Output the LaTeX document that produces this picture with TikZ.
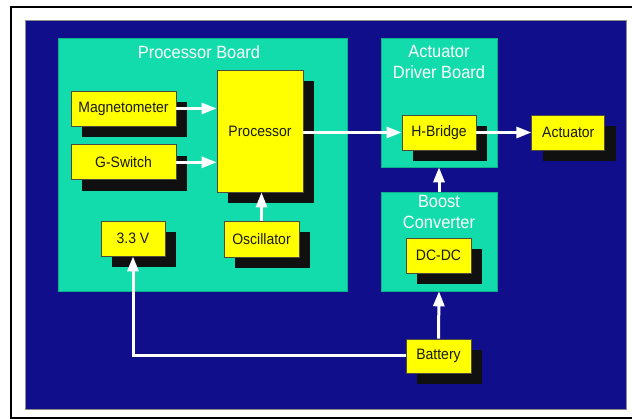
\documentclass[tikz,border=0pt]{standalone}
\usepackage{fontspec}
\setmainfont{Liberation Sans}
\newfontfamily\diagfont[FakeStretch=0.927]{Liberation Sans}
\usetikzlibrary{positioning, arrows.meta, shadows}

\definecolor{navybg}{RGB}{17,14,140}
\definecolor{boardteal}{RGB}{18,220,172}
\definecolor{boxyellow}{RGB}{255,255,0}
\definecolor{shade}{RGB}{16,16,16}

\begin{document}
\begin{tikzpicture}[
            x=1pt, y=1pt,
            board/.style={fill=boardteal, draw=boardteal!80!black, line width=0.6pt, inner sep=0pt},
            title/.style={text=white, align=center, font=\diagfont\fontsize{17.7}{21}\selectfont},
            box/.style={draw=black!80!yellow, line width=0.8pt, fill=boxyellow, inner sep=0pt,
                minimum height=35pt, align=center, text=black!90, font=\diagfont\fontsize{15.1}{17}\selectfont,
                drop shadow={shadow xshift=11pt, shadow yshift=-11pt, fill=shade, opacity=1}},
            arr/.style={-{Triangle[length=15pt, width=11pt]}, draw=white, line width=3pt}
        ]
            \useasboundingbox (0,0) rectangle (632,419);
            % Frame and background
            \draw[line width=1.6pt] (632,412) -- (11,412) -- (11,1) -- (632,1);
            \fill[navybg, draw=black!45] (25,10) rectangle (626,399);

            % Boards
            \node[board, minimum width=288.5pt, minimum height=253pt] (pboard) at (202.75,254.5) {};
            \node[board, minimum width=116pt, minimum height=129pt] (adboard) at (439,316.5) {};
            \node[board, minimum width=116pt, minimum height=99pt] (boost) at (439,177.5) {};
            \node[title] (ptitle) at (199,367) {Processor Board};
            \node[title] (adtitle) at (439,356.5) {Actuator\\Driver Board};
            \node[title] (btitle) at (439,206.5) {Boost\\Converter};

            % Processor board
            \node[box, minimum width=105pt] (mag) at (123.5,310.5) {Magnetometer};
            \node[box, minimum width=105pt, below=18pt of mag] (gsw) {G-Switch};
            \node[box, minimum width=86pt, minimum height=122pt] (proc) at (260,288) {Processor};
            \node[box, minimum width=75pt, minimum height=36pt] (osc) at (261.5,180) {Oscillator};
            \node[box, minimum width=64pt] (vreg) at (133,180.5) {3.3 V};

            % Driver, converter and outside parts
            \node[box, minimum width=74pt] (hb) at (439,286.5) {H-Bridge};
            \node[box, minimum width=73pt, right=55pt of hb] (act) {Actuator};
            \node[box, minimum width=65pt] (dcdc) at (438.5,163.5) {DC-DC};
            \node[box, minimum width=65pt, minimum height=34pt] (bat) at (438.5,63) {Battery};

            % Signals
            \draw[arr] (mag.east) -- (mag.east -| proc.west);
            \draw[arr] (gsw.east) -- (gsw.east -| proc.west);
            \draw[arr] (osc.north) -- (osc.north |- proc.south);
            \draw[arr] (proc.east |- hb.west) -- (hb.west);
            \draw[arr] (hb.east) -- (act.west);

            % Power
            \draw[arr] (boost.north) -- (adboard.south);
            \draw[arr] (bat.north) -- (boost.south);
            \draw[arr] (bat.west) -| (vreg.south);
        \end{tikzpicture}
\end{document}
